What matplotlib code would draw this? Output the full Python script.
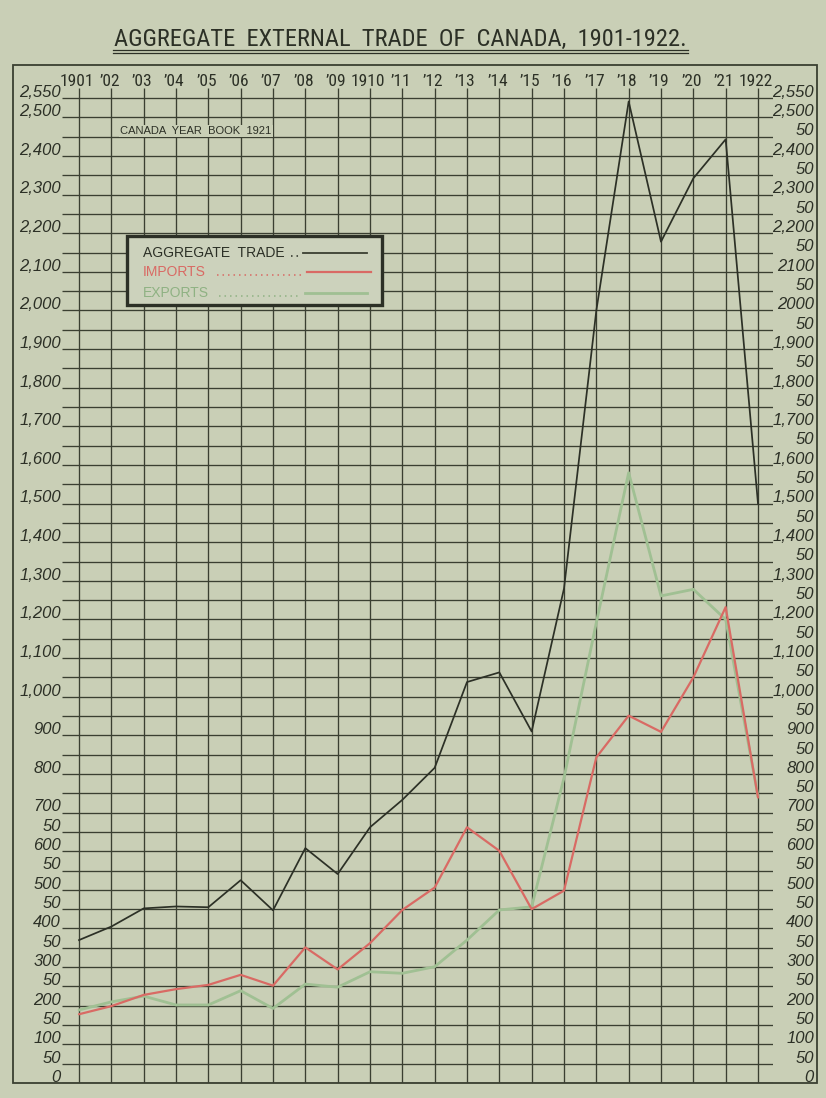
import matplotlib
matplotlib.use('Agg')
import matplotlib.pyplot as plt
import matplotlib.transforms as mtransforms
from matplotlib.patches import Rectangle
from matplotlib.lines import Line2D
from matplotlib import font_manager as fm

# ---------------- data ----------------
years = list(range(1901, 1923))
aggregate = [370, 405, 452, 457, 455, 525, 447, 608, 541, 662, 733, 816,
             1038, 1063, 910, 1280, 2000, 2541, 2178, 2342, 2443, 1500]
imports = [178, 199, 228, 243, 254, 280, 252, 351, 294, 362, 448, 506,
           662, 601, 450, 498, 843, 951, 909, 1050, 1232, 739]
exports = [189, 210, 225, 202, 202, 239, 193, 256, 248, 288, 284, 301,
           370, 448, 456, 790, 1192, 1580, 1261, 1278, 1200, 742]

year_labels = ['1901', '\u201902', '\u201903', '\u201904', '\u201905', '\u201906',
               '\u201907', '\u201908', '\u201909', '1910', '\u201911', '\u201912',
               '\u201913', '\u201914', '\u201915', '\u201916', '\u201917', '\u201918',
               '\u201919', '\u201920', '\u201921', '1922']

left_values = [2550, 2500, 2400, 2300, 2200, 2100, 2000, 1900, 1800, 1700, 1600,
               1500, 1400, 1300, 1200, 1100, 1000, 900, 800, 700, 650, 600, 550,
               500, 450, 400, 350, 300, 250, 200, 150, 100, 50, 0]
left_labels = ['2,550', '2,500', '2,400', '2,300', '2,200', '2,100', '2,000', '1,900',
               '1,800', '1,700', '1,600', '1,500', '1,400', '1,300', '1,200', '1,100',
               '1,000', '900', '800', '700', '50', '600', '50', '500', '50', '400',
               '50', '300', '50', '200', '50', '100', '50', '0']

right_values = [2550] + list(range(2500, -1, -50))
right_labels = ['2,550', '2,500', '50', '2,400', '50', '2,300', '50', '2,200', '50',
                '2100', '50', '2000', '50', '1,900', '50', '1,800', '50', '1,700', '50',
                '1,600', '50', '1,500', '50', '1,400', '50', '1,300', '50', '1,200', '50',
                '1,100', '50', '1,000', '50', '900', '50', '800', '50', '700', '50',
                '600', '50', '500', '50', '400', '50', '300', '50', '200', '50', '100',
                '50', '0']

title = 'AGGREGATE  EXTERNAL  TRADE  OF  CANADA,  1901-1922.'
source = 'CANADA  YEAR  BOOK  1921'
legend_names = ['AGGREGATE  TRADE', 'IMPORTS', 'EXPORTS']

# ---------------- style ----------------
BG = '#c9cfb6'
GRID = '#3a3f31'
INK = '#2c3026'
RED = '#d96a64'
GREEN = '#a0c093'
GREEN_TXT = '#8fb283'

# pick a narrow face if one is installed
ttf = fm.fontManager.ttflist
names = {f.name for f in ttf}
narrow_kw = None
for cand in ['Liberation Sans Narrow', 'Roboto Condensed', 'Open Sans Condensed']:
    if cand in names:
        narrow_kw = dict(family=cand)
        break
if narrow_kw is None:
    for f in ttf:
        if f.name == 'DejaVu Sans' and str(f.stretch) in ('condensed', 'semi-condensed'):
            narrow_kw = dict(family='DejaVu Sans', fontstretch='condensed')
            break
if narrow_kw is None:
    narrow_kw = dict(family='Liberation Sans')
    yr_size, title_size = 10.8, 15.5
else:
    yr_size, title_size = 12.5, 17.6

W, H = 826, 1098
fig = plt.figure(figsize=(W / 100, H / 100), dpi=100)
fig.patch.set_facecolor(BG)


def fx(x):
    return x / W


def fy(y):
    return 1 - y / H


# pixel geometry of the grid
px_first, px_last = 79, 758          # 1901 and 1922 vertical lines
py_zero, py_top = 1083, 98           # 0 and 2550 horizontal lines
ppx = (px_last - px_first) / 21.0
ppy = (py_zero - py_top) / 2550.0

x0 = 1901 - (px_first - 62) / ppx
x1 = 1922 + (773 - px_last) / ppx
ytop = 2550 + (py_top - 88) / ppy

ax = fig.add_axes([fx(62), fy(1083), fx(773) - fx(62), fy(88) - fy(1083)])
ax.set_xlim(x0, x1)
ax.set_ylim(0, ytop)
ax.axis('off')

ax.hlines(list(range(0, 2551, 50)), x0, x1, color=GRID, lw=0.95, zorder=1)
ax.vlines(years, 0, ytop, color=GRID, lw=0.95, zorder=1)

ax.plot(years, exports, color=GREEN, lw=2.0, zorder=3, solid_capstyle='round')
ax.plot(years, imports, color=RED, lw=1.6, zorder=4, solid_capstyle='round')
ax.plot(years, aggregate, color=INK, lw=1.25, zorder=5)

# axis labels
tl = mtransforms.blended_transform_factory(fig.transFigure, ax.transData)
for v, s in zip(left_values, left_labels):
    ax.text(fx(61), v + 3, s, transform=tl, ha='right', va='baseline',
            fontsize=12, style='italic', family='Liberation Sans', color=INK,
            clip_on=False)
for v, s in zip(right_values, right_labels):
    ax.text(fx(814), v + 3, s, transform=tl, ha='right', va='baseline',
            fontsize=12, style='italic', family='Liberation Sans', color=INK,
            clip_on=False)

tx = mtransforms.blended_transform_factory(ax.transData, fig.transFigure)
for yr, s in zip(years, year_labels):
    ax.text(yr - 0.06, fy(86), s, transform=tx, ha='center', va='baseline',
            fontsize=yr_size, color=INK, clip_on=False, **narrow_kw)

# frame
fig.add_artist(Rectangle((fx(13), fy(1083)), fx(817) - fx(13), fy(65) - fy(1083),
                         transform=fig.transFigure, fill=False, ec=GRID, lw=1.3,
                         zorder=2))

# title with double underline
fig.text(fx(400), fy(46), title, ha='center', va='baseline',
         fontsize=title_size, color=INK, **narrow_kw)
for yy in (49.5, 52.5):
    fig.add_artist(Line2D([fx(113), fx(688)], [fy(yy), fy(yy)],
                          transform=fig.transFigure, color=INK, lw=0.9))

# source note
fig.text(fx(120), fy(134), source, ha='left', va='baseline', fontsize=8,
         family='Liberation Sans', color=INK, zorder=6,
         bbox=dict(boxstyle='square,pad=0.12', fc=BG, ec='none'))

# legend box
fig.add_artist(Rectangle((fx(127), fy(305)), fx(382) - fx(127), fy(236) - fy(305),
                         transform=fig.transFigure, fc='#ccd2bc', ec=INK, lw=2.4,
                         zorder=6))
leg_rows = [
    (257, legend_names[0], INK, GRID, 291, 300, 303, 367, 1.3),
    (276, legend_names[1], RED, RED, 217, 305, 307, 371, 1.6),
    (297, legend_names[2], GREEN_TXT, GREEN, 219, 301, 305, 367, 2.0),
]
for by, name, tcol, lcol, d0, d1, l0, l1, lw in leg_rows:
    fig.text(fx(143), fy(by), name, ha='left', va='baseline', fontsize=10,
             family='Liberation Sans', color=tcol, zorder=7)
    fig.add_artist(Line2D([fx(d0), fx(d1)], [fy(by - 1), fy(by - 1)],
                          transform=fig.transFigure, color=tcol, lw=1.1,
                          linestyle=(0, (1, 2.6)), zorder=7))
    fig.add_artist(Line2D([fx(l0), fx(l1)], [fy(by - 4), fy(by - 4)],
                          transform=fig.transFigure, color=lcol, lw=lw,
                          zorder=7))

fig.savefig('out.png', dpi=100, facecolor=BG)
